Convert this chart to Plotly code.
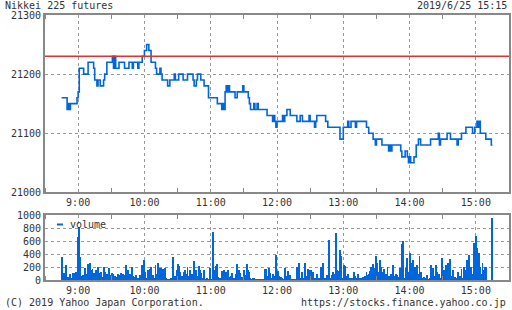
import plotly.graph_objects as go
import pandas as pd

DAY = "2019-06-25"
TITLE = "Nikkei 225 futures"
STAMP = "2019/6/25 15:15"
COPYRIGHT = "(C) 2019 Yahoo Japan Corporation."
SOURCE_URL = "https://stocks.finance.yahoo.co.jp"
LEGEND_LABEL = "volume"

prev_close = 21230

# step points of the futures price (value holds until next time)
price_times = [
    "08:45", "08:50", "08:51", "08:52", "08:53", "08:59", "09:00", "09:01", "09:05", "09:09",
    "09:14", "09:15", "09:17", "09:18", "09:20", "09:23", "09:24", "09:26", "09:31", "09:32",
    "09:33", "09:34", "09:37", "09:42", "09:46", "09:49", "09:50", "09:54", "09:55", "09:58",
    "10:00", "10:02", "10:04", "10:06", "10:10", "10:11", "10:14", "10:15", "10:16", "10:21",
    "10:23", "10:27", "10:28", "10:31", "10:35", "10:39", "10:44", "10:45", "10:47", "10:48",
    "10:51", "10:54", "10:58", "11:06", "11:10", "11:11", "11:12", "11:13", "11:14", "11:15",
    "11:16", "11:17", "11:22", "11:24", "11:29", "11:30", "11:34", "11:35", "11:36", "11:39",
    "11:40", "11:42", "11:43", "11:51", "11:56", "11:57", "11:58", "11:59", "12:00", "12:05",
    "12:06", "12:07", "12:09", "12:12", "12:18", "12:21", "12:23", "12:29", "12:30", "12:34",
    "12:35", "12:36", "12:44", "12:46", "12:57", "13:00", "13:04", "13:05", "13:07", "13:11",
    "13:12", "13:21", "13:23", "13:27", "13:29", "13:30", "13:35", "13:41", "13:42", "13:43",
    "13:44", "13:52", "13:53", "13:56", "13:58", "13:59", "14:00", "14:01", "14:04", "14:06",
    "14:08", "14:10", "14:19", "14:26", "14:27", "14:28", "14:34", "14:37", "14:43", "14:44",
    "14:47", "14:51", "14:57", "14:59", "15:01", "15:02", "15:03", "15:04", "15:09", "15:14",
    "15:15",
]
price_values = [
    21160, 21140, 21150, 21140, 21150, 21160, 21170, 21210, 21200, 21220,
    21210, 21190, 21180, 21190, 21180, 21190, 21200, 21220, 21230, 21210,
    21230, 21210, 21220, 21210, 21220, 21210, 21220, 21210, 21220, 21230,
    21240, 21250, 21240, 21220, 21210, 21200, 21210, 21200, 21190, 21180,
    21190, 21200, 21190, 21200, 21190, 21200, 21190, 21180, 21190, 21200,
    21190, 21180, 21160, 21150, 21140, 21150, 21140, 21170, 21180, 21170,
    21180, 21170, 21160, 21170, 21180, 21170, 21160, 21150, 21140, 21150,
    21140, 21150, 21140, 21130, 21120, 21130, 21120, 21110, 21120, 21130,
    21120, 21130, 21140, 21130, 21120, 21130, 21120, 21130, 21120, 21110,
    21120, 21130, 21120, 21110, 21090, 21110, 21120, 21110, 21120, 21110,
    21120, 21110, 21100, 21090, 21080, 21090, 21080, 21070, 21080, 21070,
    21080, 21070, 21060, 21070, 21060, 21050, 21060, 21050, 21060, 21080,
    21090, 21080, 21090, 21100, 21080, 21090, 21100, 21090, 21080, 21090,
    21100, 21110, 21100, 21110, 21120, 21110, 21120, 21100, 21090, 21080,
    21080,
]

# per-minute volume from 08:45 to 15:15
volume_start = "08:45"
volume = [
    360, 20, 105, 10, 225, 30, 45, 20, 95, 30,
    110, 115, 60, 130, 30, 660, 820, 360, 60, 80,
    50, 180, 90, 60, 250, 110, 265, 150, 170, 110,
    90, 150, 80, 200, 110, 60, 120, 40, 205, 120,
    60, 95, 40, 180, 70, 60, 110, 95, 60, 45,
    20, 95, 70, 20, 110, 15, 100, 80, 230, 120,
    150, 40, 95, 80, 200, 60, 45, 70, 20, 10,
    20, 70, 30, 230, 50, 310, 120, 20, 150, 60,
    170, 200, 50, 70, 30, 230, 90, 265, 180, 60,
    180, 170, 40, 175, 180, 20, 10, 0, 10, 20,
    10, 355, 20, 60, 150, 240, 220, 130, 20, 60,
    20, 130, 160, 100, 200, 60, 150, 30, 100, 20,
    300, 20, 150, 60, 215, 150, 110, 20, 10, 150,
    10, 10, 20, 5, 180, 10, 5, 740, 20, 160,
    210, 250, 50, 30, 20, 140, 100, 150, 60, 120,
    100, 150, 40, 60, 110, 20, 10, 20, 100, 240,
    40, 160, 110, 40, 20, 150, 30, 70, 240, 150,
    120, 20, 10, 30, 20, 10, 5, 10, 5, 10,
    5, 10, 5, 10, 170, 165, 40, 60, 180, 110,
    30, 90, 60, 20, 385, 30, 145, 60, 30, 50,
    20, 10, 190, 60, 20, 145, 30, 75, 10, 5,
    10, 5, 10, 195, 20, 260, 30, 10, 130, 20,
    260, 20, 60, 165, 150, 130, 150, 120, 130, 20,
    10, 100, 20, 10, 30, 195, 20, 260, 20, 30,
    75, 20, 615, 20, 30, 75, 130, 90, 730, 150,
    140, 60, 460, 370, 20, 30, 230, 215, 60, 100,
    20, 10, 20, 10, 30, 130, 60, 20, 100, 30,
    20, 10, 20, 50, 20, 60, 130, 70, 100, 145,
    195, 110, 245, 180, 90, 370, 260, 120, 310, 200,
    60, 130, 165, 40, 100, 195, 60, 20, 100, 30,
    230, 60, 20, 100, 75, 40, 180, 60, 555, 605,
    20, 30, 180, 335, 130, 420, 260, 100, 310, 130,
    195, 60, 230, 100, 370, 130, 30, 10, 50, 10,
    20, 75, 10, 20, 230, 60, 180, 20, 60, 230,
    120, 30, 100, 20, 335, 60, 150, 20, 230, 60,
    260, 30, 325, 60, 150, 20, 50, 10, 30, 130,
    20, 60, 165, 30, 195, 150, 40, 310, 60, 385,
    150, 195, 90, 565, 300, 670, 490, 250, 410, 200,
    100, 260, 150, 200, 200, 0, 0, 0, 0, 0,
    960,
]

price_ticks = [21000, 21100, 21200, 21300]
volume_ticks = [0, 200, 400, 600, 800, 1000]

BLUE = "#0066dd"
RED = "#dd3333"
FRAME = "#888888"
GRID = "#999999"
TXT = "#333333"
FONT = "DejaVu Sans Mono"

W, H = 512, 310
ML, MR, MT, MB = 45, 1, 15, 30
PW, PH = W - ML - MR, H - MT - MB


def px_x(x):
    return (x - ML) / PW


def px_y(y):
    return (H - MB - y) / PH


pt = pd.to_datetime([f"{DAY} {t}" for t in price_times])
vt = pd.date_range(f"{DAY} {volume_start}", periods=len(volume), freq="min")

fig = go.Figure()
fig.add_trace(go.Scatter(
    x=pt, y=price_values, mode="lines", xaxis="x2", yaxis="y2",
    line=dict(color=BLUE, width=1.6, shape="hv"), showlegend=False,
    hoverinfo="skip"))
fig.add_trace(go.Bar(
    x=vt, y=volume, xaxis="x", yaxis="y", marker=dict(color=BLUE, line=dict(width=0)),
    width=50000, showlegend=False, hoverinfo="skip"))

x0 = f"{DAY} 08:30"
x1 = f"{DAY} 15:30"
xcommon = dict(
    type="date", range=[x0, x1], tick0=f"{DAY} 09:00", dtick=3600000,
    tickformat="%-H:%M", showgrid=True, gridcolor=GRID, griddash="3px,3px", gridwidth=1,
    showline=True, linecolor=FRAME, linewidth=2, mirror="allticks", ticks="",
    minor=dict(ticks="inside", ticklen=4, tickcolor=FRAME, tickwidth=1,
               dtick=1800000, tick0=f"{DAY} 08:30", showgrid=False),
    tickfont=dict(family=FONT, size=10, color=TXT), zeroline=False, fixedrange=True,
)
ycommon = dict(
    showgrid=True, gridcolor=GRID, griddash="3px,3px", gridwidth=1,
    showline=True, linecolor=FRAME, linewidth=2, mirror=True, ticks="",
    tickformat="d",
    tickfont=dict(family=FONT, size=10, color=TXT), zeroline=False, fixedrange=True,
)

fig.update_layout(
    width=W, height=H, margin=dict(l=ML, r=MR, t=MT, b=MB, pad=0),
    paper_bgcolor="white", plot_bgcolor="white", bargap=0,
    xaxis=dict(domain=[0, 1], anchor="y", **xcommon),
    xaxis2=dict(domain=[0, 1], anchor="y2", **xcommon),
    yaxis=dict(domain=[0, px_y(215)], anchor="x", range=[0, 1000],
               tickvals=volume_ticks, **ycommon),
    yaxis2=dict(domain=[px_y(192.3), 1], anchor="x2", range=[21000, 21300],
                tickvals=price_ticks, **ycommon),
    font=dict(family=FONT, size=10, color=TXT),
)

fig.add_shape(type="line", xref="x2 domain", yref="y2", x0=0, x1=1,
              y0=prev_close, y1=prev_close, line=dict(color=RED, width=1.5))

fig.add_shape(type="line", xref="paper", yref="paper",
              x0=px_x(57), x1=px_x(63), y0=px_y(224.5), y1=px_y(224.5),
              line=dict(color=BLUE, width=2))

ann = dict(showarrow=False, xref="paper", yref="paper",
           font=dict(family=FONT, size=10, color=TXT))
fig.add_annotation(text=LEGEND_LABEL, x=px_x(68), y=px_y(224.5),
                   xanchor="left", yanchor="middle", **ann)
fig.add_annotation(text=TITLE, x=px_x(3), y=px_y(5),
                   xanchor="left", yanchor="middle", **ann)
fig.add_annotation(text=STAMP, x=px_x(511), y=px_y(5),
                   xanchor="right", yanchor="middle", **ann)
fig.add_annotation(text=COPYRIGHT, x=px_x(3), y=px_y(302),
                   xanchor="left", yanchor="middle", **ann)
fig.add_annotation(text=SOURCE_URL, x=px_x(510), y=px_y(302),
                   xanchor="right", yanchor="middle", **ann)

fig.write_html("out.html")
